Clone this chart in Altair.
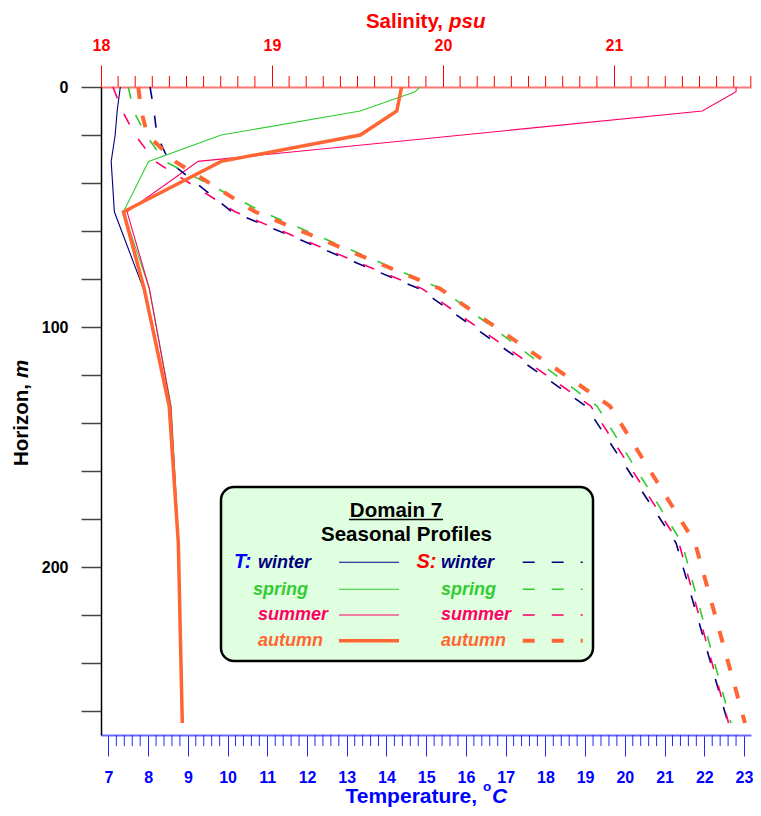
import altair as alt
import pandas as pd

FONT = "Liberation Sans"

# ---------------- data ----------------
seasons = ["winter", "spring", "summer", "autumn"]
season_colors = ["#000080", "#33CC33", "#FF0066", "#FF6633"]

depth_t = [0, 2, 10, 20, 31, 52, 84, 133, 190, 265]
temp_winter = [7.30, None, 7.22, 7.17, 7.07, 7.15, 7.88, 8.54, 8.76, 8.87]
temp_spring = [14.84, 14.72, 13.34, 9.84, 8.01, 7.38, 8.03, 8.58, 8.77, 8.87]
temp_summer = [22.80, 22.80, 21.95, None, 9.26, 7.47, 8.03, 8.57, 8.77, 8.87]
temp_autumn = [14.38, None, 14.26, 13.34, 9.84, 7.38, 7.90, 8.53, 8.76, 8.86]

depth_s = [0, 10, 20, 31, 52, 84, 133, 190, 265]
sal_winter = [18.287, 18.310, 18.327, 18.398, 18.766, 19.860, 20.836, 21.363, 21.667]
sal_spring = [18.160, 18.190, 18.263, 18.374, 18.942, 19.988, 20.901, 21.398, 21.684]
sal_summer = [18.070, 18.125, 18.199, 18.316, 18.784, 19.877, 20.865, 21.380, 21.670]
sal_autumn = [18.218, 18.235, 18.272, 18.433, 18.901, 19.982, 20.977, 21.474, 21.766]

temp_ticks = list(range(7, 24))
sal_ticks = [18, 19, 20, 21]
depth_ticks = list(range(0, 261, 20))
temp_minor = [round(7 + 0.2 * i, 1) for i in range(1, 80) if i % 5]
sal_minor = [round(18 + 0.1 * i, 1) for i in range(1, 39) if i % 10]

legend_title = "Domain 7"
legend_subtitle = "Seasonal Profiles"

W, H = 650, 648
T_DOMAIN = [6.8137, 6.8137 + W / 39.725]
S_DOMAIN = [18.0, 18.0 + W / 171.0]
D_DOMAIN = [0, 270]

# ---------------- frames ----------------
t_rows = []
for s, vals in zip(seasons, [temp_winter, temp_spring, temp_summer, temp_autumn]):
    for d, v in zip(depth_t, vals):
        if v is not None:
            t_rows.append({"season": s, "depth": d, "T": v})
tdf = pd.DataFrame(t_rows)

s_rows = []
for s, vals in zip(seasons, [sal_winter, sal_spring, sal_summer, sal_autumn]):
    for d, v in zip(depth_s, vals):
        s_rows.append({"season": s, "depth": d, "S": v})
sdf = pd.DataFrame(s_rows)

one = pd.DataFrame({"k": [0]})


def y_axis():
    return alt.Axis(
        orient="left",
        values=depth_ticks,
        labelExpr="datum.value % 100 === 0 ? datum.label : ''",
        tickSize=20, tickColor="#444444", tickWidth=1.5,
        domainColor="#000000", domainWidth=1.5,
        labelFont=FONT, labelFontSize=16, labelFontWeight="bold", labelColor="#000000",
        labelPadding=13, grid=False, title=None,
    )


def y_enc():
    return alt.Y("depth:Q", scale=alt.Scale(domain=D_DOMAIN, reverse=True, nice=False, zero=False),
                 axis=y_axis())


def t_scale():
    return alt.Scale(domain=T_DOMAIN, nice=False, zero=False)


def s_scale():
    return alt.Scale(domain=S_DOMAIN, nice=False, zero=False)


color_enc = alt.Color("season:N", scale=alt.Scale(domain=seasons, range=season_colors), legend=None)

t_axis = alt.Axis(
    orient="bottom", values=temp_ticks, format="d",
    tickSize=21, tickColor="#2626FF", tickWidth=1,
    domainColor="#6A6AFF", domainWidth=2,
    labelFont=FONT, labelFontSize=16, labelFontWeight="bold", labelColor="#0000FF",
    labelPadding=21, labelBaseline="middle", labelFlush=False, grid=False, title=None,
)

s_axis = alt.Axis(
    orient="top", values=sal_ticks, format="d",
    tickSize=22, tickColor="#FF0000", tickWidth=1,
    domainColor="#FF7777", domainWidth=2,
    labelFont=FONT, labelFontSize=16, labelFontWeight="bold", labelColor="#FF0000",
    labelPadding=20, labelBaseline="middle", labelFlush=False, grid=False, title=None,
)

# temperature profiles (solid)
t_thin = alt.Chart(tdf).transform_filter(alt.datum.season != "autumn").mark_line(strokeWidth=1.1).encode(
    x=alt.X("T:Q", scale=t_scale(), axis=t_axis),
    y=y_enc(),
    color=color_enc,
    order=alt.Order("depth:Q"),
)
t_thick = alt.Chart(tdf).transform_filter(alt.datum.season == "autumn").mark_line(strokeWidth=3.5).encode(
    x=alt.X("T:Q", scale=t_scale(), axis=None),
    y=y_enc(),
    color=color_enc,
    order=alt.Order("depth:Q"),
)
t_minor = alt.Chart(pd.DataFrame({"T": temp_minor})).mark_rule(color="#2626FF", strokeWidth=1).encode(
    x=alt.X("T:Q", scale=t_scale(), axis=None),
    y=alt.value(H), y2=alt.value(H + 11),
)

# salinity profiles (dashed)
s_thin = alt.Chart(sdf).transform_filter(alt.datum.season != "autumn").mark_line(
    strokeWidth=1.6, strokeDash=[12, 17]).encode(
    x=alt.X("S:Q", scale=s_scale(), axis=s_axis),
    y=y_enc(),
    color=color_enc,
    order=alt.Order("depth:Q"),
)
s_thick = alt.Chart(sdf).transform_filter(alt.datum.season == "autumn").mark_line(
    strokeWidth=4, strokeDash=[12, 17]).encode(
    x=alt.X("S:Q", scale=s_scale(), axis=None),
    y=y_enc(),
    color=color_enc,
    order=alt.Order("depth:Q"),
)
s_minor = alt.Chart(pd.DataFrame({"S": sal_minor})).mark_rule(color="#FF0000", strokeWidth=1).encode(
    x=alt.X("S:Q", scale=s_scale(), axis=None),
    y=alt.value(-11), y2=alt.value(0),
)


def txt(t, x, y, color, size, style="normal", align="left", baseline="alphabetic", angle=0):
    kw = dict(text=t, font=FONT, fontSize=size, fontWeight="bold", fontStyle=style,
              color=color, align=align, baseline=baseline)
    if angle:
        kw["angle"] = angle
    return alt.Chart(one).mark_text(**kw).encode(x=alt.value(x), y=alt.value(y))


def hrule(x1, x2, y, color, width, dash=None):
    kw = dict(color=color, strokeWidth=width)
    if dash:
        kw["strokeDash"] = dash
    return alt.Chart(one).mark_rule(**kw).encode(x=alt.value(x1), x2=alt.value(x2), y=alt.value(y))


ann = []
# axis titles
ann.append(txt("Salinity,", 342, -59, "#FF0000", 20.5, align="right"))
ann.append(txt("psu", 348, -59, "#FF0000", 20.5, style="italic"))
ann.append(txt("Temperature,", 376, 716, "#0000FF", 21, align="right"))
ann.append(txt("o", 382, 704, "#0000FF", 13.5))
ann.append(txt("C", 391, 716, "#0000FF", 21, style="italic"))
ann.append(txt("Horizon,", -79, 297, "#000000", 20.5, align="right", baseline="middle", angle=270))
ann.append(txt("m", -79, 291, "#000000", 20.5, style="italic", align="left", baseline="middle", angle=270))

# legend box
ann.append(alt.Chart(one).mark_rect(fill="#E0FFE0", stroke="#000000", strokeWidth=2.5, cornerRadius=13).encode(
    x=alt.value(120), x2=alt.value(492), y=alt.value(400), y2=alt.value(574)))
ann.append(txt(legend_title, 295, 430, "#000000", 20.5, align="center"))
ann.append(hrule(248, 342, 432.5, "#000000", 1.6))
ann.append(txt(legend_subtitle, 305.5, 454, "#000000", 20.5, align="center"))
ann.append(txt("T:", 133, 481, "#0000FF", 20, style="italic"))
ann.append(txt("S:", 315.5, 481, "#FF0000", 20, style="italic"))

row_base = [481, 508, 533, 559]
row_line = [475.3, 502.3, 528, 553.7]
t_text_x = [157, 152, 157, 157]
for i, (s, c) in enumerate(zip(seasons, season_colors)):
    w_solid = 3.5 if s == "autumn" else 1.1
    w_dash = 4 if s == "autumn" else 1.6
    ann.append(txt(s, t_text_x[i], row_base[i], c, 18, style="italic"))
    ann.append(hrule(238, 298, row_line[i], c, w_solid))
    ann.append(txt(s, 340, row_base[i], c, 18, style="italic"))
    ann.append(hrule(421.7, 481.7, row_line[i], c, w_dash, dash=[12, 17]))

chart = alt.layer(
    t_thin, s_thin, t_minor, s_minor, s_thick, t_thick, *ann
).resolve_scale(x="independent").properties(
    width=W, height=H,
    autosize=alt.AutoSizeParams(type="none"),
    padding={"left": 93, "top": 79, "right": 2, "bottom": 72},
).configure_view(strokeWidth=0)

chart.save("out.html", embed_options={"renderer": "svg", "actions": False})
